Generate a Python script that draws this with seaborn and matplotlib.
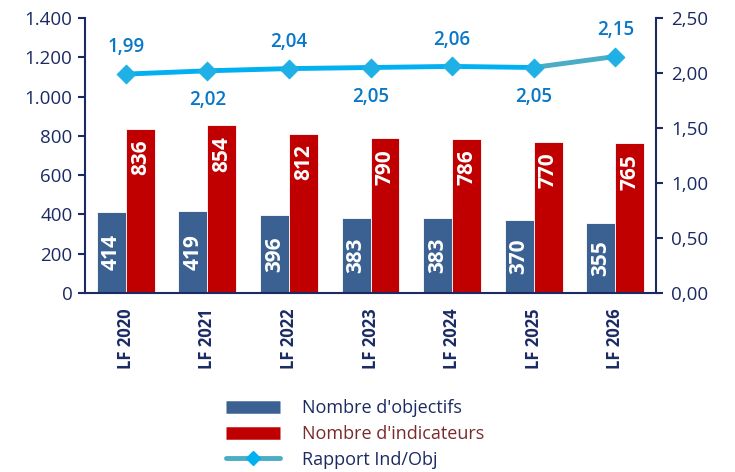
import matplotlib
matplotlib.use("Agg")
import matplotlib.pyplot as plt
import seaborn as sns
import pandas as pd
import numpy as np
from matplotlib.lines import Line2D

categories = ["LF 2020", "LF 2021", "LF 2022", "LF 2023", "LF 2024", "LF 2025", "LF 2026"]
objectifs = [414, 419, 396, 383, 383, 370, 355]
indicateurs = [836, 854, 812, 790, 786, 770, 765]
rapport = [1.99, 2.02, 2.04, 2.05, 2.06, 2.05, 2.15]
rapport_labels = ["1,99", "2,02", "2,04", "2,05", "2,06", "2,05", "2,15"]
left_ticks = [0, 200, 400, 600, 800, 1000, 1200, 1400]
left_tick_labels = ["0", "200", "400", "600", "800", "1.000", "1.200", "1.400"]
right_ticks = [0, 0.5, 1.0, 1.5, 2.0, 2.5]
right_tick_labels = ["0,00", "0,50", "1,00", "1,50", "2,00", "2,50"]
series_names = ["Nombre d'objectifs", "Nombre d'indicateurs", "Rapport Ind/Obj"]

BLUE = "#3A6191"
RED = "#C00000"
LINE = "#00B0F0"
LINE2 = "#4BACC6"
MARK = "#1FB0E6"
LBL = "#0A78C8"
NAVY = "#1B2A63"

sns.set_theme(style="white")
plt.rcParams["font.family"] = ["Open Sans", "DejaVu Sans"]

df = pd.DataFrame({
    "cat": categories * 2,
    "val": objectifs + indicateurs,
    "serie": [series_names[0]] * len(categories) + [series_names[1]] * len(categories),
})

fig = plt.figure(figsize=(7.35, 4.72), dpi=100)
ax = fig.add_axes([85 / 735, 1 - 293 / 472, (656 - 85) / 735, (293 - 18) / 472])
sns.barplot(data=df, x="cat", y="val", hue="serie", palette=[BLUE, RED],
            width=0.71, gap=0, saturation=1, ax=ax, legend=False)
for p in ax.patches:
    p.set_edgecolor("white")
    p.set_linewidth(0.6)

# bar labels
for i, v in enumerate(objectifs):
    ax.text(i - 0.71 / 4, v / 2, str(v), rotation=90, ha="center", va="center",
            color="white", fontsize=15, fontweight="bold")
for i, v in enumerate(indicateurs):
    ax.annotate(str(v), (i + 0.71 / 4, v), xytext=(0, -8), textcoords="offset points",
                rotation=90, ha="center", va="top", color="white", fontsize=15, fontweight="bold")

ax.set_ylim(0, 1400)
ax.set_xlim(-0.5, len(categories) - 0.5)
ax.set_yticks(left_ticks)
ax.set_yticklabels(left_tick_labels)
ax.set_xlabel("")
ax.set_ylabel("")
ax.set_xticks(range(len(categories)))
ax.set_xticklabels(categories, rotation=90, fontweight="bold", fontsize=12, color=NAVY)
ax.set_xticks(np.arange(-0.5, len(categories), 1.0), minor=True)
ax.tick_params(axis="x", which="major", length=0, pad=11)
ax.tick_params(axis="x", which="minor", length=5, width=1.5, color=NAVY, direction="out")
ax.tick_params(axis="y", length=5, width=1.5, color=NAVY, labelsize=13.5, labelcolor=NAVY, left=True, pad=4)
for s in ["top", "right"]:
    ax.spines[s].set_visible(False)
for s in ["left", "bottom"]:
    ax.spines[s].set_color(NAVY)
    ax.spines[s].set_linewidth(1.5)

ax2 = ax.twinx()
xs = list(range(len(categories)))
line_df = pd.DataFrame({"x": xs[:-1], "y": rapport[:-1]})
sns.lineplot(data=line_df, x="x", y="y", color=LINE, linewidth=3.5, ax=ax2)
last_df = pd.DataFrame({"x": xs[-2:], "y": rapport[-2:]})
sns.lineplot(data=last_df, x="x", y="y", color=LINE2, linewidth=3.5, ax=ax2)
sns.scatterplot(x=xs, y=rapport, marker="D", s=90, color=MARK, edgecolor=MARK, ax=ax2, zorder=5)
for i, (v, t) in enumerate(zip(rapport, rapport_labels)):
    off = 12 if i % 2 == 0 else -14
    ax2.annotate(t, (i, v), xytext=(0, off), textcoords="offset points", ha="center",
                 va="bottom" if off > 0 else "top", color=LBL, fontsize=13.5, fontweight="semibold")
ax2.set_ylim(0, 2.5)
ax2.set_yticks(right_ticks)
ax2.set_yticklabels(right_tick_labels)
ax2.set_xlabel("")
ax2.set_ylabel("")
ax2.tick_params(axis="y", length=5, width=1.5, color=NAVY, labelsize=13.5, labelcolor=NAVY, right=True, pad=6)
for s in ["top", "left", "bottom"]:
    ax2.spines[s].set_visible(False)
ax2.spines["right"].set_color(NAVY)
ax2.spines["right"].set_linewidth(1.5)
ax2.grid(False)
ax.grid(False)

handles = [
    Line2D([0], [0], color=BLUE, linewidth=9, solid_capstyle="butt"),
    Line2D([0], [0], color=RED, linewidth=9, solid_capstyle="butt"),
    Line2D([0], [0], color=LINE2, linewidth=3.5, marker="D", markersize=7,
           markerfacecolor=LINE, markeredgecolor=LINE, solid_capstyle="round"),
]
leg = fig.legend(handles, series_names, loc="center", bbox_to_anchor=(355 / 735, 1 - 434 / 472),
                 frameon=False, fontsize=13, handlelength=3.0, labelspacing=0.42, handletextpad=1.2)
cols = [NAVY, "#7A2A2A", NAVY]
for t, c in zip(leg.get_texts(), cols):
    t.set_color(c)

fig.savefig("out.png", dpi=100)
